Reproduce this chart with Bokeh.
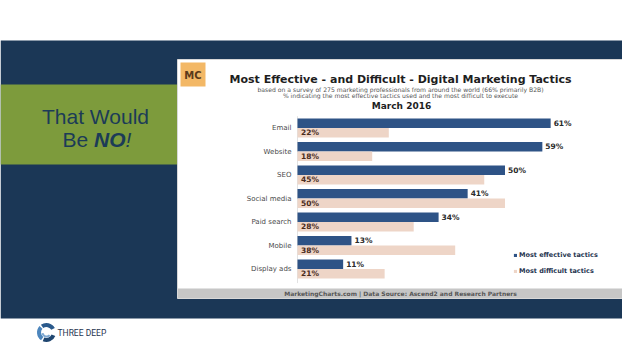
from bokeh.plotting import figure
from bokeh.models import Range1d, Legend, LegendItem, ColumnDataSource
from bokeh.core.properties import value
from bokeh.transform import dodge
from bokeh.embed import file_html
from bokeh.resources import INLINE

# ---- data ----
categories = ["Email", "Website", "SEO", "Social media", "Paid search", "Mobile", "Display ads"]
most_effective = [61, 59, 50, 41, 34, 13, 11]
most_difficult = [22, 18, 45, 50, 28, 38, 21]
series_names = ["Most effective tactics", "Most difficult tactics"]

title_text = "Most Effective - and Difficult - Digital Marketing Tactics"
subtitle_1 = "based on a survey of 275 marketing professionals from around the world (66% primarily B2B)"
subtitle_2 = "% indicating the most effective tactics used and the most difficult to execute"
date_text = "March 2016"
footer_text = "MarketingCharts.com | Data Source: Ascend2 and Research Partners"

# ---- styling ----
NAVY = "#1b3756"
GREEN = "#7d9b3c"
BLUE = "#2e5386"
PINK = "#eed5c7"
CHART_FONT = value("DejaVu Sans")
SLIDE_FONT = value("Liberation Sans")

W, H = 622, 343
PX_PER_PCT = 4.15
ZERO_X = 297.0
ROW0_Y = 127.5
ROW_H = 23.5

p = figure(width=W, height=H, output_backend="svg", toolbar_location=None,
           x_range=Range1d(-ZERO_X / PX_PER_PCT, (W - ZERO_X) / PX_PER_PCT),
           y_range=Range1d((H - ROW0_Y) / ROW_H, (0 - ROW0_Y) / ROW_H),
           min_border=0, x_axis_location=None, y_axis_location=None)
p.extra_x_ranges = {"px": Range1d(0, W)}
p.extra_y_ranges = {"px": Range1d(H, 0)}
p.grid.visible = False
p.outline_line_color = None
p.background_fill_color = "white"
p.border_fill_color = "white"

PX = dict(x_range_name="px", y_range_name="px")

# ---- slide background ----
p.quad(left=[0], right=[640], top=[40], bottom=[318], color=NAVY, line_color=None, **PX)
p.quad(left=[0], right=[640], top=[84], bottom=[164], color=GREEN, line_color=None, **PX)
# chart image box
p.quad(left=[177], right=[624], top=[59], bottom=[298], fill_color="white",
       line_color="#d8d8d8", line_width=1, **PX)
p.quad(left=[177.5], right=[623.5], top=[288], bottom=[297.5], fill_color="#c6c6c6",
       line_color=None, **PX)

# slide headline
p.text(x=[95], y=[116], text=["That Would"], text_font=SLIDE_FONT, text_font_size="21px",
       text_color="#1c3b57", text_align="center", text_baseline="middle", **PX)
p.text(x=[62], y=[139], text=["Be "], text_font=SLIDE_FONT, text_font_size="21px",
       text_color="#1c3b57", text_align="left", text_baseline="middle", **PX)
p.text(x=[93.5], y=[139], text=["NO"], text_font=SLIDE_FONT, text_font_size="21px",
       text_font_style="bold italic", text_color="#1c3b57", text_align="left",
       text_baseline="middle", **PX)
p.text(x=[125], y=[139], text=["!"], text_font=SLIDE_FONT, text_font_size="21px",
       text_font_style="italic", text_color="#1c3b57", text_align="left",
       text_baseline="middle", **PX)

# footer logo
p.annular_wedge(x=[46, 46, 46], y=[332, 332, 332], inner_radius=5.5, outer_radius=9.5,
                start_angle=[0.5, 2.4, 4.3], end_angle=[2.2, 4.1, 5.9],
                color=["#2b5a8c", "#4d86bd", "#1f4670"], line_color=None, **PX)
p.annular_wedge(x=[46], y=[332], inner_radius=3, outer_radius=5,
                start_angle=[3.3], end_angle=[5.6], color="#7fa9d2", line_color=None, **PX)
p.text(x=[57], y=[332], text=["THREE DEEP"], text_font=value("Roboto"),
       text_font_size="8.5px", text_color="#1f3550", text_align="left",
       text_baseline="middle", **PX)

# ---- chart header ----
p.quad(left=[180], right=[205], top=[62], bottom=[86], fill_color="#f3b866",
       line_color=None, **PX)
p.text(x=[192.5], y=[75], text=["MC"], text_font=CHART_FONT, text_font_size="10px",
       text_font_style="bold", text_color="#5a3a1a", text_align="center",
       text_baseline="middle", **PX)
p.text(x=[400], y=[79], text=[title_text], text_font=CHART_FONT, text_font_size="11px",
       text_font_style="bold", text_color="#1e1e1e", text_align="center",
       text_baseline="middle", **PX)
p.text(x=[400, 400], y=[88.5, 94.5], text=[subtitle_1, subtitle_2], text_font=CHART_FONT,
       text_font_size="6.1px", text_color="#555555", text_align="center",
       text_baseline="middle", **PX)
p.text(x=[401], y=[105], text=[date_text], text_font=CHART_FONT, text_font_size="9px",
       text_font_style="bold", text_color="#1e1e1e", text_align="center",
       text_baseline="middle", **PX)
p.text(x=[400], y=[293], text=[footer_text], text_font=CHART_FONT, text_font_size="6px",
       text_font_style="bold", text_color="#555555", text_align="center",
       text_baseline="middle", **PX)

# ---- bars ----
src = ColumnDataSource(dict(
    cat=categories,
    row=list(range(len(categories))),
    eff=most_effective,
    dif=most_difficult,
    eff_lbl=[f"{v}%" for v in most_effective],
    dif_lbl=[f"{v}%" for v in most_difficult],
))

# faint axis line
p.segment(x0=[0], x1=[0], y0=[-0.5], y1=[len(categories) - 0.4], line_color="#e2e2e2",
          line_width=1)

r_eff = p.hbar(y=dodge("row", -0.2), right="eff", left=0, height=0.4, source=src,
               fill_color=BLUE, line_color=None)
r_dif = p.hbar(y=dodge("row", 0.2), right="dif", left=0, height=0.4, source=src,
               fill_color=PINK, line_color=None)

p.text(x=0, y="row", text="cat", source=src, x_offset=-6, text_align="right",
       text_baseline="middle", text_font=CHART_FONT, text_font_size="7px",
       text_color="#4a4a4a")
p.text(x="eff", y=dodge("row", -0.2), text="eff_lbl", source=src, x_offset=3,
       text_align="left", text_baseline="middle", text_font=CHART_FONT,
       text_font_size="7.5px", text_font_style="bold", text_color="#2a2a2a")
p.text(x=0, y=dodge("row", 0.2), text="dif_lbl", source=src, x_offset=3.5,
       text_align="left", text_baseline="middle", text_font=CHART_FONT,
       text_font_size="7.5px", text_font_style="bold", text_color="#4a2c1c")

legend = Legend(items=[LegendItem(label=series_names[0], renderers=[r_eff]),
                       LegendItem(label=series_names[1], renderers=[r_dif])],
                location=(513, 68), orientation="vertical")
legend.glyph_width = 4
legend.glyph_height = 4
legend.label_height = 8
legend.label_standoff = 2
legend.spacing = 8
legend.padding = 0
legend.margin = 0
legend.border_line_color = None
legend.background_fill_alpha = 0
legend.label_text_font = "DejaVu Sans"
legend.label_text_font_size = "6.5px"
legend.label_text_font_style = "bold"
legend.label_text_color = "#1f3550"
p.add_layout(legend)

open("out.html", "w").write(file_html(p, INLINE))
